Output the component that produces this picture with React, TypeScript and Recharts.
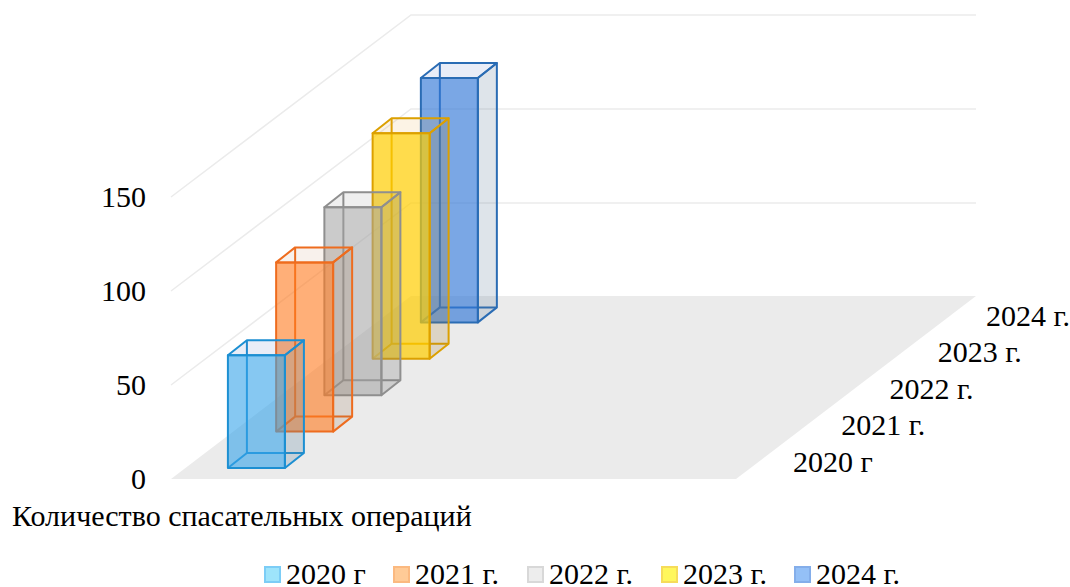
import React from 'react';
import { BarChart, Bar, XAxis, YAxis, Legend, ReferenceArea, Label } from 'recharts';

const categories = ['2020 г', '2021 г.', '2022 г.', '2023 г.', '2024 г.'];
const rescueOperations = [60, 90, 100, 120, 130];
const valueTicks = [0, 50, 100, 150];
const axisTitle = 'Количество спасательных операций';

const strokes = ['#1c8fd2', '#ee6c1e', '#8f8f8f', '#dca000', '#2a6cb4'];
const fronts = ['rgba(54,163,234,.6)', 'rgba(255,122,30,.6)', 'rgba(160,160,160,.55)', 'rgba(255,205,0,.7)', 'rgba(50,120,215,.65)'];
const sides = ['rgba(90,130,160,.25)', 'rgba(150,110,80,.18)', 'rgba(120,120,120,.25)', 'rgba(160,120,40,.2)', 'rgba(90,120,150,.2)'];
const tops = ['rgba(70,110,190,.12)', 'rgba(190,120,70,.1)', 'rgba(120,120,120,.12)', 'rgba(230,160,40,.12)', 'rgba(70,110,190,.12)'];
const swatchFills = ['#9ee4fb', '#ffcb97', '#ededed', '#fff75c', '#94c0f7'];
const swatchStrokes = ['#7ccdf6', '#fbb980', '#d8d8d8', '#f6dc5a', '#84aeea'];

const drawOrder = categories.map((c, i) => ({ category: c, value: rescueOperations[i] })).reverse();

const FONT = '"Liberation Serif", serif';
const TEXT = 30;
const STEP_Y = 36.4;
const FRONT_GAP = 11;
const BOX_W = 57;
const DX = 19;
const DY = 15;
const WALL_DX = 240;
const WALL_DY = 183;
const PAD_L = 61.4;
const PAD_R = 262.4;
const GRID = '#ebebeb';

function Walls(p: any) {
  const { y, height } = p;
  const x = p.x - PAD_L;
  const width = p.width + PAD_L + PAD_R;
  const bottom = y + height;
  const max = valueTicks[valueTicks.length - 1];
  const lines = valueTicks.slice(1).map((t) => bottom - (height * t) / max);
  return (
    <g>
      <polygon
        points={`${x},${bottom} ${x + width},${bottom} ${x + width + WALL_DX},${bottom - WALL_DY} ${x + WALL_DX},${bottom - WALL_DY}`}
        fill={GRID}
      />
      {lines.map((ly) => (
        <polyline
          key={ly}
          points={`${x},${ly} ${x + WALL_DX},${ly - WALL_DY + 1} ${x + width + WALL_DX},${ly - WALL_DY + 1}`}
          fill="none"
          stroke={GRID}
          strokeWidth={1.5}
        />
      ))}
    </g>
  );
}

function Box(p: any) {
  const { x, y, width, height, payload } = p;
  const d = categories.indexOf(payload.category);
  const shift = FRONT_GAP + d * STEP_Y;
  const t = y - shift;
  const b = y + height - shift;
  const l = x + width / 2 - BOX_W / 2;
  const r = l + BOX_W;
  const c = strokes[d];
  return (
    <g stroke={c} strokeWidth={2} strokeLinejoin="round">
      <polyline points={`${l},${b} ${l + DX},${b - DY} ${r + DX},${b - DY}`} fill="none" />
      <line x1={l + DX} y1={t - DY} x2={l + DX} y2={b - DY} />
      <polygon points={`${l},${t} ${l + DX},${t - DY} ${r + DX},${t - DY} ${r},${t}`} fill={tops[d]} />
      <polygon points={`${r},${t} ${r + DX},${t - DY} ${r + DX},${b - DY} ${r},${b}`} fill={sides[d]} />
      <rect x={l} y={t} width={BOX_W} height={height} fill={fronts[d]} />
    </g>
  );
}

function ValueTick(p: any) {
  return (
    <text x={146} y={p.y + 10} textAnchor="end" fontFamily={FONT} fontSize={TEXT} fill="#000">
      {p.payload.value}
    </text>
  );
}

function DepthTick(p: any) {
  const d = categories.indexOf(p.payload.value);
  return (
    <text x={p.x + 536.5} y={472 - d * 36.6} fontFamily={FONT} fontSize={TEXT} fill="#000">
      {p.payload.value}
    </text>
  );
}

function Legendish() {
  const lefts = [264, 393, 527, 661, 794];
  return (
    <div style={{ position: 'relative', width: 1070, height: 48 }}>
      {categories.map((c, i) => (
        <div key={c} style={{ position: 'absolute', left: lefts[i], top: 0, display: 'flex', alignItems: 'center', height: 48 }}>
          <span
            style={{
              display: 'inline-block',
              boxSizing: 'border-box',
              width: 17,
              height: 17,
              marginTop: 22,
              background: swatchFills[i],
              border: `2px solid ${swatchStrokes[i]}`,
            }}
          />
          <span style={{ marginLeft: 5, marginTop: 20, fontFamily: FONT, fontSize: TEXT, color: '#000', whiteSpace: 'nowrap', lineHeight: '29px' }}>{c}</span>
        </div>
      ))}
    </div>
  );
}

export default function App() {
  return (
    <div style={{ position: 'absolute', left: 0, top: 0, width: 1070, height: 587, overflow: 'hidden' }}>
      <BarChart
        width={1070}
        height={587}
        data={drawOrder}
        margin={{ top: 197, right: 334, bottom: 0, left: 0 }}
        barCategoryGap={0}
      >
        <ReferenceArea y1={0} y2={150} shape={Walls} ifOverflow="visible" />
        <YAxis
          type="number"
          domain={[0, 150]}
          ticks={valueTicks}
          width={171}
          axisLine={false}
          tickLine={false}
          tick={ValueTick}
          interval={0}
        />
        <XAxis
          dataKey="category"
          reversed
          height={60}
          padding={{ left: PAD_L, right: PAD_R }}
          axisLine={false}
          tickLine={false}
          tick={DepthTick}
          interval={0}
        >
          <Label
            content={() => (
              <text x={12} y={526} fontFamily={FONT} fontSize={TEXT} fill="#000">
                {axisTitle}
              </text>
            )}
          />
        </XAxis>
        <Legend content={Legendish} height={48} verticalAlign="bottom" wrapperStyle={{ left: 0, bottom: 0, width: 1070 }} />
        <Bar dataKey="value" shape={Box} isAnimationActive={false} />
      </BarChart>
    </div>
  );
}
